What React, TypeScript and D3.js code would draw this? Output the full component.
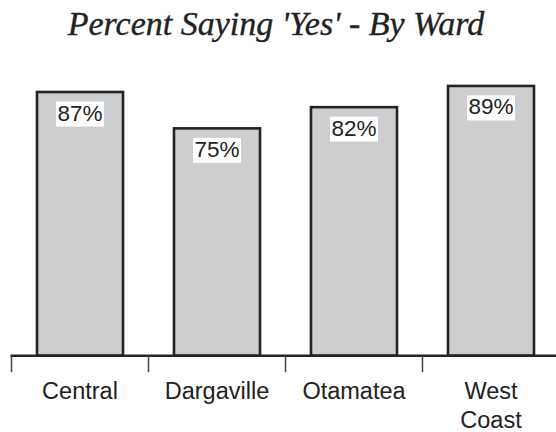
import React, { useEffect, useRef } from "react";
import * as d3 from "d3";

// data
const wards = ["Central", "Dargaville", "Otamatea", "West Coast"];
const yesPercent = [87, 75, 82, 89];
const titleText = "Percent Saying 'Yes' - By Ward";

const W = 556;
const H = 432;

export default function App() {
  const svgRef = useRef<SVGSVGElement>(null);

  useEffect(() => {
    document.body.style.margin = "0";
    const svg = d3.select(svgRef.current);
    svg.selectAll("*").remove();

    const baseY = 355.7;

    const x = d3
      .scaleBand<string>()
      .domain(wards)
      .range([11.5, 559.5])
      .paddingInner(0.372)
      .paddingOuter(0.186);

    const y = d3.scaleLinear().domain([0, 100]).range([baseY, 52.6]);

    svg.append("rect").attr("width", W).attr("height", H).attr("fill", "#fff");

    // title
    svg
      .append("text")
      .attr("x", 276)
      .attr("y", 34.5)
      .attr("text-anchor", "middle")
      .attr("font-family", "'Liberation Serif', serif")
      .attr("font-style", "italic")
      .attr("font-size", 34)
      .attr("fill", "#222")
      .attr("stroke", "#222")
      .attr("stroke-width", 0.35)
      .text(titleText);

    // bars
    const bars = svg
      .append("g")
      .selectAll("rect")
      .data(yesPercent)
      .enter()
      .append("rect")
      .attr("x", (d, i) => x(wards[i])!)
      .attr("y", (d) => y(d))
      .attr("width", x.bandwidth())
      .attr("height", (d) => baseY - y(d))
      .attr("fill", "#cdced0")
      .attr("stroke", "#232323")
      .attr("stroke-width", 2.6);

    // value labels with white boxes
    const labels = svg.append("g");
    yesPercent.forEach((v, i) => {
      const cx = x(wards[i])! + x.bandwidth() / 2;
      const g = labels.append("g");
      const box = g.append("rect").attr("fill", "#fff");
      const t = g
        .append("text")
        .attr("x", cx)
        .attr("y", y(v) + 28.5)
        .attr("text-anchor", "middle")
        .attr("font-family", "'Liberation Sans', Arial, sans-serif")
        .attr("font-size", 22.5)
        .attr("fill", "#222")
        .text(`${v}%`);
      const bb = (t.node() as SVGTextElement).getBBox();
      box
        .attr("x", bb.x - 1.5)
        .attr("y", bb.y + 1)
        .attr("width", bb.width + 3)
        .attr("height", bb.height);
    });

    // axis line and tick marks at band edges
    const axis = svg.append("g");
    axis
      .append("line")
      .attr("x1", 10.5)
      .attr("x2", W)
      .attr("y1", baseY)
      .attr("y2", baseY)
      .attr("stroke", "#232323")
      .attr("stroke-width", 2.4);

    const step = x.step();
    axis
      .selectAll("line.tick")
      .data(wards)
      .enter()
      .append("line")
      .attr("class", "tick")
      .attr("x1", (d) => x(d)! - (step - x.bandwidth()) / 2)
      .attr("x2", (d) => x(d)! - (step - x.bandwidth()) / 2)
      .attr("y1", baseY)
      .attr("y2", baseY + 16.5)
      .attr("stroke", "#444")
      .attr("stroke-width", 1.5);

    // category labels, wrapped on spaces
    axis
      .selectAll("text.cat")
      .data(wards)
      .enter()
      .append("text")
      .attr("class", "cat")
      .attr("text-anchor", "middle")
      .attr("font-family", "'Liberation Sans', Arial, sans-serif")
      .attr("font-size", 23.5)
      .attr("fill", "#222")
      .each(function (d) {
        const words = d.split(" ");
        const el = d3.select(this);
        words.forEach((w, k) => {
          el.append("tspan")
            .attr("x", x(d)! + x.bandwidth() / 2)
            .attr("y", 398.5 + k * 29)
            .text(w);
        });
      });

    bars.raise();
    labels.raise();
  }, []);

  return <svg ref={svgRef} width={W} height={H} style={{ display: "block" }} />;
}
